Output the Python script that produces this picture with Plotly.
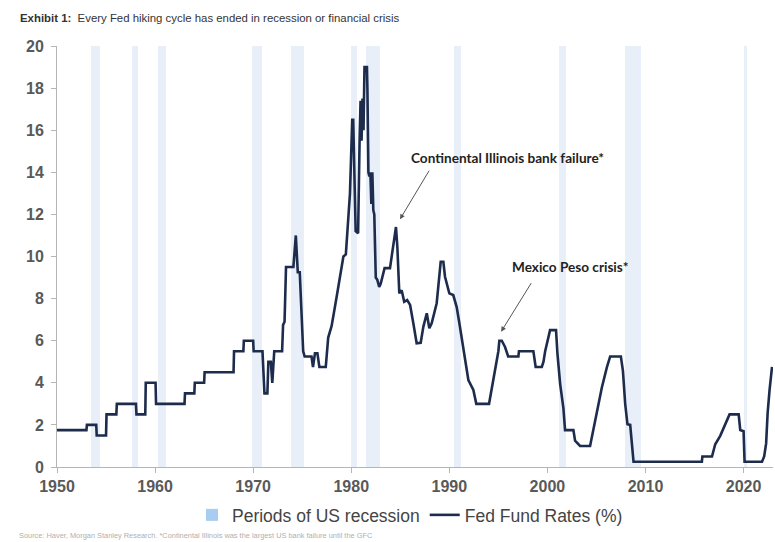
import plotly.graph_objects as go

# Fed funds rate
years = [1950.0, 1953.0, 1953.05, 1954.0, 1954.05, 1955.0, 1955.05, 1956.05, 1956.1, 1958.05,
         1958.1, 1959.0, 1959.05, 1960.05, 1960.1, 1963.0, 1963.05, 1964.0, 1964.05, 1965.0,
         1965.05, 1968.0, 1968.05, 1969.0, 1969.05, 1970.0, 1970.05, 1970.95, 1971.15, 1971.45,
         1971.55, 1971.8, 1971.95, 1972.15, 1972.95, 1973.05, 1973.2, 1973.35, 1974.1, 1974.35,
         1974.55, 1974.75, 1975.1, 1975.25, 1975.95, 1976.1, 1976.3, 1976.55, 1976.75, 1977.4,
         1977.65, 1978.0, 1978.5, 1978.85, 1979.2, 1979.45, 1979.7, 1979.87, 1980.1, 1980.2,
         1980.45, 1980.7, 1980.85, 1980.95, 1981.05, 1981.15, 1981.25, 1981.35, 1981.6, 1981.65,
         1981.75, 1981.85, 1981.95, 1982.05, 1982.15, 1982.25, 1982.35, 1982.5, 1982.65, 1982.85,
         1983.0, 1983.4, 1983.95, 1984.3, 1984.45, 1984.56, 1984.7, 1984.9, 1985.14, 1985.4,
         1985.7, 1986.0, 1986.33, 1986.67, 1987.08, 1987.35, 1987.7, 1987.96, 1988.2, 1988.71,
         1989.12, 1989.39, 1989.56, 1990.0, 1990.4, 1990.75, 1991.0, 1991.43, 1991.94, 1992.45,
         1992.75, 1994.05, 1994.25, 1994.45, 1994.65, 1994.85, 1995.0, 1995.1, 1995.35, 1995.68,
         1996.0, 1997.04, 1997.1, 1998.57, 1998.7, 1998.8, 1999.43, 1999.6, 1999.77, 2000.0,
         2000.27, 2000.88, 2001.02, 2001.3, 2001.63, 2001.8, 2002.65, 2002.82, 2003.33, 2004.35,
         2004.53, 2005.04, 2005.55, 2006.06, 2006.4, 2007.49, 2007.7, 2007.93, 2008.16, 2008.44,
         2008.78, 2015.75, 2015.8, 2016.78, 2017.11, 2017.62, 2018.13, 2018.57, 2019.5, 2019.66,
         2020.0, 2020.1, 2021.88, 2022.1, 2022.3, 2022.45, 2022.65, 2022.9]
rates = [1.75, 1.75, 2.0, 2.0, 1.5, 1.5, 2.5, 2.5, 3.0, 3.0,
         2.5, 2.5, 4.0, 4.0, 3.0, 3.0, 3.5, 3.5, 4.0, 4.0,
         4.5, 4.5, 5.5, 5.5, 6.0, 6.0, 5.5, 5.5, 3.5, 3.5,
         5.0, 5.0, 4.0, 5.5, 5.5, 6.75, 6.9, 9.5, 9.5, 11.0,
         9.25, 9.25, 5.5, 5.25, 5.25, 4.75, 5.4, 5.4, 4.75, 4.75,
         6.15, 6.7, 8.05, 9.0, 10.0, 10.1, 11.6, 13.0, 16.5, 16.5,
         11.2, 11.1, 15.5, 17.4, 15.5, 17.5, 16.0, 19.0, 19.0, 17.9,
         14.0, 13.8, 14.0, 12.5, 14.0, 12.2, 12.0, 9.0, 8.9, 8.55,
         8.7, 9.45, 9.45, 10.5, 11.0, 11.4, 10.45, 8.25, 8.4, 7.85,
         7.93, 7.7, 6.83, 5.88, 5.9, 6.66, 7.3, 6.59, 6.83, 7.78,
         9.75, 9.75, 9.04, 8.25, 8.17, 7.6, 6.9, 5.7, 4.13, 3.66,
         3.0, 3.0, 3.5, 4.0, 4.5, 5.0, 5.5, 6.0, 6.0, 5.7,
         5.25, 5.25, 5.5, 5.5, 5.0, 4.75, 4.75, 5.0, 5.5, 6.0,
         6.5, 6.5, 5.4, 3.94, 2.8, 1.75, 1.75, 1.25, 1.0, 1.0,
         1.4, 2.67, 3.78, 4.73, 5.25, 5.25, 4.57, 3.0, 2.03, 2.0,
         0.25, 0.25, 0.5, 0.5, 1.08, 1.48, 2.03, 2.5, 2.5, 1.76,
         1.7, 0.25, 0.25, 0.5, 1.12, 2.55, 3.66, 4.76]

# US recessions (start / end, decimal years)
rec_start = [1953.5, 1957.6, 1960.3, 1969.9, 1973.85, 1980.0, 1981.5, 1990.5, 2001.2, 2007.9, 2020.1]
rec_end = [1954.4, 1958.3, 1961.1, 1970.9, 1975.2, 1980.6, 1982.9, 1991.2, 2001.9, 2009.5, 2020.3]
rec_top = 20

x_ticks = [1950, 1960, 1970, 1980, 1990, 2000, 2010, 2020]
y_ticks = list(range(0, 21, 2))

title_bold = "Exhibit 1:"
title_text = "Every Fed hiking cycle has ended in recession or financial crisis"
source_text = ("Source: Haver, Morgan Stanley Research. *Continental Illinois was the largest "
               "US bank failure until the GFC")
ann1 = "Continental Illinois bank failure*"
ann2 = "Mexico Peso crisis*"

rec_mid = [(a + b) / 2 for a, b in zip(rec_start, rec_end)]
rec_width = [b - a for a, b in zip(rec_start, rec_end)]

fig = go.Figure()
fig.add_trace(go.Bar(
    x=rec_mid, y=[rec_top] * len(rec_mid), width=rec_width, base=0,
    marker=dict(color="#e8eff9", line=dict(width=0)),
    showlegend=False, hoverinfo="skip"))
fig.add_trace(go.Bar(
    x=[None], y=[None], name="Periods of US recession",
    marker=dict(color="#a9cdf1", line=dict(width=0))))
fig.add_trace(go.Scatter(
    x=years, y=rates, mode="lines", name="Fed Fund Rates (%)",
    line=dict(color="#1d2c4c", width=2.6)))

tick_font = dict(family="Liberation Sans", size=16, color="#595959", weight="bold")

fig.update_layout(
    width=775, height=542,
    margin=dict(l=57, r=2, t=46, b=75),
    paper_bgcolor="white", plot_bgcolor="white",
    barmode="overlay", bargap=0,
    font=dict(family="Liberation Sans", color="#444"),
    xaxis=dict(range=[1950, 2023.0], tickvals=x_ticks, showgrid=False, zeroline=False,
               showline=True, linecolor="#b5b5b5", linewidth=1,
               ticks="outside", ticklen=5, tickcolor="#b5b5b5", tickfont=tick_font),
    yaxis=dict(range=[0, 20], tickvals=y_ticks, showgrid=False, zeroline=False,
               showline=True, linecolor="#b5b5b5", linewidth=1,
               ticks="outside", ticklen=5, tickcolor="#b5b5b5", ticklabelstandoff=4,
               tickfont=tick_font),
    legend=dict(orientation="h", x=0.493, xanchor="center", y=-0.114, yanchor="middle",
                font=dict(family="Liberation Sans", size=17.5, color="#444"),
                itemwidth=30, tracegroupgap=0),
    showlegend=True,
)

fig.add_annotation(xref="paper", yref="paper", x=-0.0549, y=1.066, xanchor="left", yanchor="middle",
                   text="<b>" + title_bold + "</b>  " + title_text, showarrow=False,
                   font=dict(family="Liberation Sans", size=11.4, color="#333"))
fig.add_annotation(xref="paper", yref="paper", x=-0.056, y=-0.162, xanchor="left", yanchor="middle",
                   text=source_text, showarrow=False,
                   font=dict(family="Liberation Sans", size=7.4, color="#b0b0b0"))

# annotation texts
fig.add_annotation(x=1995.9, y=14.7, text="<b>" + ann1 + "</b>", showarrow=False,
                   xanchor="center", yanchor="middle",
                   font=dict(family="Lato", size=13.6, color="#222"))
fig.add_annotation(x=2002.4, y=9.5, text="<b>" + ann2 + "</b>", showarrow=False,
                   xanchor="center", yanchor="middle",
                   font=dict(family="Lato", size=13.6, color="#222"))
# arrows
fig.add_annotation(x=1984.97, y=11.77, ax=30, ay=-50, text="", showarrow=True,
                   arrowhead=2, arrowsize=1, arrowwidth=1, arrowcolor="#555")
fig.add_annotation(x=1995.28, y=6.43, ax=31, ay=-50, text="", showarrow=True,
                   arrowhead=2, arrowsize=1, arrowwidth=1, arrowcolor="#555")

fig.write_html("out.html", config={"displayModeBar": False},
               post_script="document.body.style.margin='0px';")
